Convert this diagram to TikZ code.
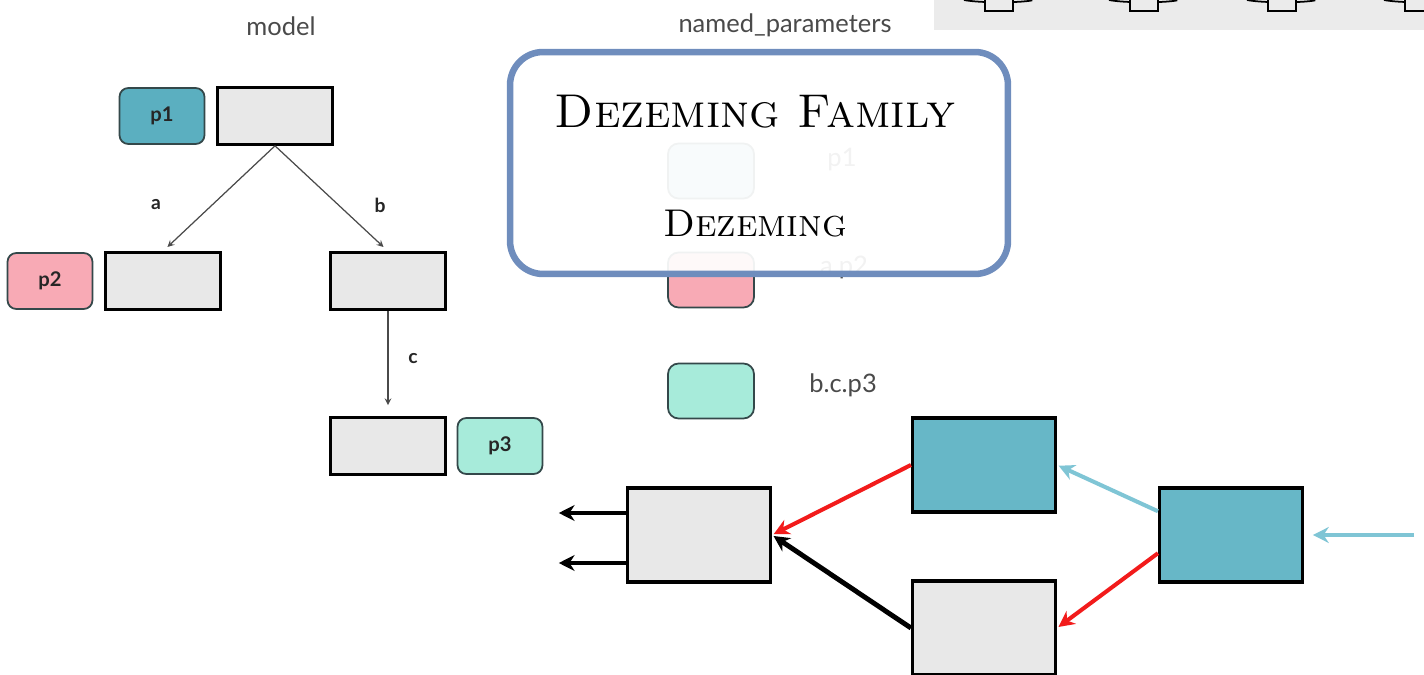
\documentclass[tikz,border=0pt]{standalone}
\usepackage{fontspec}
\newfontfamily\labelfont{Lato}
\usetikzlibrary{shapes,arrows.meta}
\definecolor{tealbox}{HTML}{67B7C7}
\definecolor{pone}{HTML}{5BAFC0}
\definecolor{ptwo}{HTML}{F8AAB5}
\definecolor{pthree}{HTML}{A7EBDA}
\definecolor{boxgray}{HTML}{E8E8E8}
\definecolor{pillborder}{HTML}{34484A}
\definecolor{textgray}{HTML}{4A4A4A}
\definecolor{wmblue}{HTML}{6F8DBD}
\definecolor{panelgray}{HTML}{EBEBEB}
\definecolor{redarrow}{HTML}{F21B1B}
\definecolor{cyanarrow}{HTML}{7FC5D5}

\begin{document}
\begin{tikzpicture}[x=0.02cm,y=-0.02cm,shorten >=1pt,>=stealth]
\tikzstyle{gbox}=[rectangle,draw=black,line width=1.5pt,fill=boxgray,minimum width=2.3cm,minimum height=1.14cm]
\tikzstyle{pill}=[rectangle,rounded corners=5pt,draw=pillborder,line width=1pt,fill=#1,minimum width=1.7cm,minimum height=1.12cm,font=\labelfont\bfseries\fontsize{11.5}{13}\selectfont,text=black!85]
\tikzstyle{legend}=[rectangle,rounded corners=6pt,draw=pillborder,line width=1pt,fill=#1,minimum width=1.72cm,minimum height=1.1cm]
\tikzstyle{netbox}=[rectangle,draw=black,line width=1.8pt,fill=#1,minimum width=2.86cm,minimum height=1.88cm]
\tikzstyle{caption}=[font=\labelfont\fontsize{14.5}{17}\selectfont,text=textgray]
\tikzstyle{edge}=[font=\labelfont\bfseries\fontsize{11}{13}\selectfont,text=black!85]
\tikzstyle{treeline}=[draw=textgray,line width=0.7pt]
\tikzstyle{flow}=[-{Stealth[length=9pt,width=9pt]},line width=#1]
\tikzstyle{wmframe}=[rectangle,draw=wmblue,line width=3.7pt,rounded corners=0.66cm,fill=white,fill opacity=0.93,minimum width=9.96cm,minimum height=4.44cm]
\useasboundingbox (0,0) rectangle (1424,675);

% screenshot strip, top right
\fill[panelgray] (934,0) rectangle (1424,30);
\foreach \cx in {999,1144,1282,1419}{
  \draw[line width=1pt] (\cx-35,0) .. controls (\cx-20,3) and (\cx+20,3) .. (\cx+35,0);
  \draw[line width=1.3pt,fill=panelgray] (\cx-14,-2) rectangle (\cx+14,11);
}

% model
\node[caption] (model) at (281,26) {model};
\node[pill=pone] (p1) at (162,116) {p1};
\node[gbox] (root) at (275,116) {};
\node[gbox] (a) at (163,281) {};
\node[pill=ptwo] (p2) at (50,281) {p2};
\node[gbox] (b) at (388,281) {};
\node[gbox] (c) at (388,446) {};
\node[pill=pthree] (p3) at (500,446) {p3};
\node[edge] (la) at (156,205) {a};
\node[edge] (lb) at (380,205) {b};
\node[edge] (lc) at (413,359) {c};

\draw[->,treeline,shorten >=3.5pt] (root.south) -- (a.north);
\draw[->,treeline,shorten >=3.5pt] (root.south) -- (b.north);
\draw[->,treeline,shorten >=6.3pt] (b.south) -- (c.north);

% named_parameters
\node[caption] (named) at (785,25) {named\_parameters};
\node[legend=pone!60] (lp1) at (711,171) {};
\node[caption] (tp1) at (842,160) {p1};
\node[legend=ptwo] (lp2) at (711,280) {};
\node[caption] (tp2) at (844,267) {a.p2};
\node[legend=pthree] (lp3) at (711,391) {};
\node[caption] (tp3) at (843,385) {b.c.p3};

% watermark
\node[wmframe] (wm) at (759,163) {};
\node (wmtitle) at (755,112) {\fontsize{27}{31}\selectfont\textsc{Dezeming Family}};
\node (wmsub) at (755,224) {\fontsize{22}{26}\selectfont\textsc{Dezeming}};

% network
\node[netbox=tealbox] (T) at (984,465) {};
\node[netbox=boxgray] (B) at (984,628) {};
\node[netbox=boxgray] (L) at (699,535) {};
\node[netbox=tealbox] (R) at (1231,535) {};
\coordinate (in) at (1414,535);
\coordinate (out1) at (557,513);
\coordinate (out2) at (557,563);

\draw[flow=2.3pt,redarrow] (T.west) -- (L.east);
\draw[flow=2.8pt,black] (B.west) -- (L.east);
\draw[flow=2.3pt,cyanarrow] (R.162) -- (T.east);
\draw[flow=2.3pt,redarrow] (R.194) -- (B.east);
\draw[flow=2.3pt,cyanarrow,shorten >=5pt] (in) -- (R.east);
\draw[flow=2.8pt,black] (L.west |- out1) -- (out1);
\draw[flow=2.8pt,black] (L.west |- out2) -- (out2);
\end{tikzpicture}
\end{document}
